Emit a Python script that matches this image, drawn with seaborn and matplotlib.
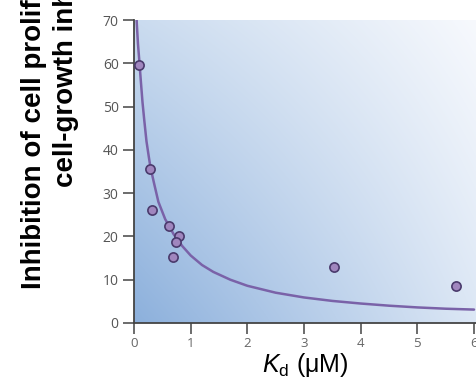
import numpy as np
import pandas as pd
import matplotlib
matplotlib.use("Agg")
import matplotlib.pyplot as plt
import seaborn as sns

# ---- data ----
kd_points = [0.09, 0.29, 0.31, 0.62, 0.80, 0.735, 0.695, 3.53, 5.68]
inhib_points = [59.7, 35.5, 26.1, 22.4, 20.1, 18.7, 15.3, 13.0, 8.5]

curve_kd = [0.04, 0.05, 0.07, 0.10, 0.12, 0.15, 0.18, 0.22, 0.26, 0.29, 0.35,
            0.43, 0.55, 0.70, 0.85, 1.0, 1.2, 1.4, 1.7, 2.0, 2.5, 3.0, 3.5,
            4.0, 4.5, 5.0, 5.5, 6.0]
curve_inhib = [72.0, 69.0, 64.5, 59.5, 56.0, 51.0, 47.0, 42.0, 38.5, 36.0, 32.5,
               28.0, 24.0, 20.5, 17.8, 15.6, 13.4, 11.8, 10.0, 8.6, 7.0, 5.9, 5.1,
               4.5, 4.0, 3.6, 3.3, 3.1]

x_ticks = [0, 1, 2, 3, 4, 5, 6]
y_ticks = [0, 10, 20, 30, 40, 50, 60, 70]

ylabel_line1 = "Inhibition of cell proliferation by"
ylabel_line2 = "cell-growth inhibitors (%)"

sns.set_theme(style="ticks")
plt.rcParams['font.family'] = ['Liberation Sans', 'DejaVu Sans']
plt.rcParams['mathtext.fontset'] = 'custom'
plt.rcParams['mathtext.it'] = 'Liberation Sans:italic'
plt.rcParams['mathtext.rm'] = 'Liberation Sans'

W, H = 476, 382
fig = plt.figure(figsize=(W / 100, H / 100), dpi=100)
fig.patch.set_facecolor('white')
ax = fig.add_axes([134 / W, 59 / H, (W - 134) / W, (323 - 20) / H])

# gradient background (bilinear between corner colours)
def hex2rgb(h):
    h = h.lstrip('#')
    return np.array([int(h[i:i + 2], 16) / 255 for i in (0, 2, 4)])

bl, tl, br, tr = (hex2rgb('#8cb0dc'), hex2rgb('#cadbef'),
                  hex2rgb('#dce7f5'), hex2rgb('#f7f9fd'))
ny, nx = 200, 300
u = np.linspace(0, 1, nx)[None, :, None]
v = np.linspace(1, 0, ny)[:, None, None]
grad = (bl * (1 - u) * (1 - v) + br * u * (1 - v) + tl * (1 - u) * v + tr * u * v)
ax.imshow(grad, extent=(0, 1, 0, 1), transform=ax.transAxes, aspect='auto',
          zorder=0, interpolation='bilinear')

curve_df = pd.DataFrame({'kd': curve_kd, 'inhib': curve_inhib})
pts_df = pd.DataFrame({'kd': kd_points, 'inhib': inhib_points})

sns.lineplot(data=curve_df, x='kd', y='inhib', ax=ax, color='#7a62a8',
             linewidth=1.8, sort=False, estimator=None, zorder=3)
sns.scatterplot(data=pts_df, x='kd', y='inhib', ax=ax, s=44, color='#a086be',
                edgecolor='#4a3a6c', linewidth=1.2, zorder=4)

ax.set_xlim(0, 6.035)
ax.set_ylim(0, 70)
ax.set_xticks(x_ticks)
ax.set_yticks(y_ticks)
ax.set_xticklabels([str(t) for t in x_ticks], fontfamily='Open Sans',
                   fontsize=9.5, color='#666666')
ax.set_yticklabels([str(t) for t in y_ticks], fontfamily='Open Sans',
                   fontsize=10, color='#555555')
ax.tick_params(axis='both', direction='out', length=8, width=1.1, color='#444444')
ax.tick_params(axis='y', pad=3)
ax.tick_params(axis='x', pad=2)
for s in ['top', 'right']:
    ax.spines[s].set_visible(False)
for s in ['left', 'bottom']:
    ax.spines[s].set_color('#444444')
    ax.spines[s].set_linewidth(1.3)
ax.set_facecolor('none')

ax.set_xlabel(r"$\mathit{K}_\mathrm{d}$ (μM)", fontsize=18, color='black', labelpad=1)
ax.set_ylabel("")

fig.text(41 / W, 1 - 289 / H, ylabel_line1, rotation=90, rotation_mode='anchor',
         ha='left', va='baseline', fontsize=20, fontweight='bold', color='black')
fig.text(73 / W, 1 - 187 / H, ylabel_line2, rotation=90, rotation_mode='anchor',
         ha='left', va='baseline', fontsize=20, fontweight='bold', color='black')

fig.savefig('out.png', dpi=100)
